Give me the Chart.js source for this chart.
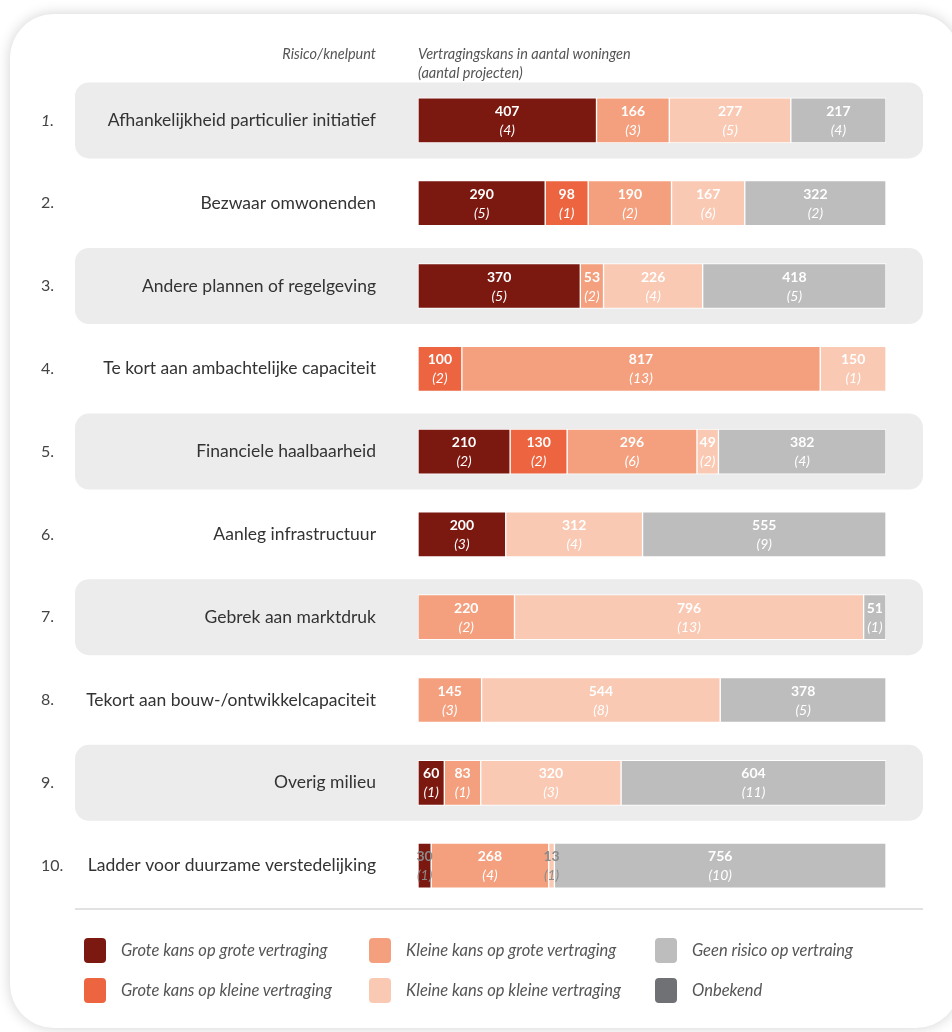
<!DOCTYPE html>
<html>
<head>
<meta charset="utf-8">
<script src="https://cdn.jsdelivr.net/npm/chart.js@4.4.1/dist/chart.umd.min.js"></script>
<style>
  body { margin: 0; background: #fff; font-family: Lato, sans-serif; }
  #card { position: absolute; left: 10px; top: 14px; width: 950px; height: 1014px; border-radius: 44px;
          background: #fff; box-shadow: 0 0 14px rgba(0,0,0,0.18); }
  #chart { position: absolute; left: 0; top: 0; }
  .hdr { position: absolute; font-style: italic; font-size: 14.5px; color: #555; line-height: 19px; }
  .sep { position: absolute; left: 75px; top: 908px; width: 848px; height: 2px; background: #e2e2e2; }
  .leg { position: absolute; font-style: italic; font-size: 16.5px; color: #555; line-height: 24px; }
  .leg span { position: absolute; left: -37px; top: 0; width: 22px; height: 25px; border-radius: 4px; }
</style>
</head>
<body>
<div id="card"></div>
<canvas id="chart" width="952" height="1032"></canvas>
<div class="hdr" style="right:576px;top:44px;">Risico/knelpunt</div>
<div class="hdr" style="left:418px;top:44px;">Vertragingskans in aantal woningen<br>(aantal projecten)</div>
<div class="sep"></div>
<div id="legend"></div>
<script>
const rowLabels = [
    'Afhankelijkheid particulier initiatief',
    'Bezwaar omwonenden',
    'Andere plannen of regelgeving',
    'Te kort aan ambachtelijke capaciteit',
    'Financiele haalbaarheid',
    'Aanleg infrastructuur',
    'Gebrek aan marktdruk',
    'Tekort aan bouw-/ontwikkelcapaciteit',
    'Overig milieu',
    'Ladder voor duurzame verstedelijking'
];
const rowNumbers = ['1.', '2.', '3.', '4.', '5.', '6.', '7.', '8.', '9.', '10.'];

const seriesNames = [
    'Grote kans op grote vertraging',
    'Grote kans op kleine vertraging',
    'Kleine kans op grote vertraging',
    'Kleine kans op kleine vertraging',
    'Geen risico op vertraing',
    'Onbekend'
];
const seriesColors = ['#7b1911', '#ec6540', '#f4a07e', '#f9c9b3', '#bdbdbd', '#707175'];

// woningen per categorie, per risico (rij 1..10)
const groteGrote   = [407, 290, 370,   0, 210, 200,   0,   0,  60,  30];
const groteKleine  = [  0,  98,   0, 100, 130,   0,   0,   0,   0,   0];
const kleineGrote  = [166, 190,  53, 817, 296,   0, 220, 145,  83, 268];
const kleineKleine = [277, 167, 226, 150,  49, 312, 796, 544, 320,  13];
const geenRisico   = [217, 322, 418,   0, 382, 555,  51, 378, 604, 756];
const onbekend     = [  0,   0,   0,   0,   0,   0,   0,   0,   0,   0];

// aantal projecten
const prjGroteGrote   = [4, 5, 5, 0, 2, 3, 0, 0, 1, 1];
const prjGroteKleine  = [0, 1, 0, 2, 2, 0, 0, 0, 0, 0];
const prjKleineGrote  = [3, 2, 2, 13, 6, 0, 2, 3, 1, 4];
const prjKleineKleine = [5, 6, 4, 1, 2, 4, 13, 8, 3, 1];
const prjGeenRisico   = [4, 2, 5, 0, 4, 9, 1, 5, 11, 10];
const prjOnbekend     = [0, 0, 0, 0, 0, 0, 0, 0, 0, 0];

const allValues = [groteGrote, groteKleine, kleineGrote, kleineKleine, geenRisico, onbekend];
const allProjects = [prjGroteGrote, prjGroteKleine, prjKleineGrote, prjKleineKleine, prjGeenRisico, prjOnbekend];

// legend (column-major like the original)
const legendPos = [[121, 938], [121, 978], [406, 938], [406, 978], [692, 938], [692, 978]];
const legendEl = document.getElementById('legend');
seriesNames.forEach((name, i) => {
    const d = document.createElement('div');
    d.className = 'leg';
    d.style.left = legendPos[i][0] + 'px';
    d.style.top = legendPos[i][1] + 'px';
    d.innerHTML = '<span style="background:' + seriesColors[i] + '"></span>' + name;
    legendEl.appendChild(d);
});

// grey row bands behind odd rows
const bandsPlugin = {
    id: 'bands',
    beforeDraw(chart) {
        const ctx = chart.ctx;
        const y = chart.scales.y;
        ctx.save();
        ctx.fillStyle = '#ececec';
        rowLabels.forEach((l, i) => {
            if (i % 2 !== 0) return;
            const cy = y.getPixelForValue(i);
            ctx.beginPath();
            ctx.roundRect(75, cy - 38, 848, 76, 14);
            ctx.fill();
        });
        // row numbers
        ctx.fillStyle = '#444';
        ctx.textBaseline = 'middle';
        rowNumbers.forEach((n, i) => {
            ctx.font = (i === 0 ? 'italic ' : '') + '16px Lato';
            ctx.fillText(n, 41, y.getPixelForValue(i));
        });
        ctx.restore();
    }
};

// value + (projects) labels in each segment
const segLabels = {
    id: 'segLabels',
    afterDatasetsDraw(chart) {
        const ctx = chart.ctx;
        ctx.save();
        ctx.textAlign = 'center';
        ctx.textBaseline = 'middle';
        chart.data.datasets.forEach((ds, di) => {
            chart.getDatasetMeta(di).data.forEach((bar, i) => {
                const v = ds.data[i];
                if (!v) return;
                const cx = (bar.x + bar.base) / 2;
                const w = Math.abs(bar.x - bar.base);
                ctx.fillStyle = w < 14 ? '#8a8a8a' : '#fff';
                ctx.font = 'bold 14px Lato';
                ctx.fillText(String(v), cx, bar.y - 9);
                ctx.font = 'italic 14px Lato';
                ctx.fillText('(' + allProjects[di][i] + ')', cx, bar.y + 10);
            });
        });
        ctx.restore();
    }
};

new Chart(document.getElementById('chart'), {
    type: 'bar',
    data: {
        labels: rowLabels,
        datasets: seriesNames.map((name, i) => ({
            label: name,
            data: allValues[i],
            backgroundColor: seriesColors[i],
            borderColor: '#fff',
            borderWidth: 1,
            borderSkipped: false,
            barThickness: 45
        }))
    },
    options: {
        indexAxis: 'y',
        responsive: false,
        animation: false,
        layout: { padding: { left: 0, right: 66, top: 79, bottom: 125 } },
        plugins: { legend: { display: false }, tooltip: { enabled: false } },
        scales: {
            x: { stacked: true, display: false, min: 0, max: 1067 },
            y: {
                stacked: true,
                grid: { display: false },
                border: { display: false },
                ticks: { color: '#333', font: { family: 'Lato', size: 17.5 }, padding: 34 },
                afterFit(scale) { scale.width = 418; }
            }
        }
    },
    plugins: [bandsPlugin, segLabels]
});
</script>
</body>
</html>
